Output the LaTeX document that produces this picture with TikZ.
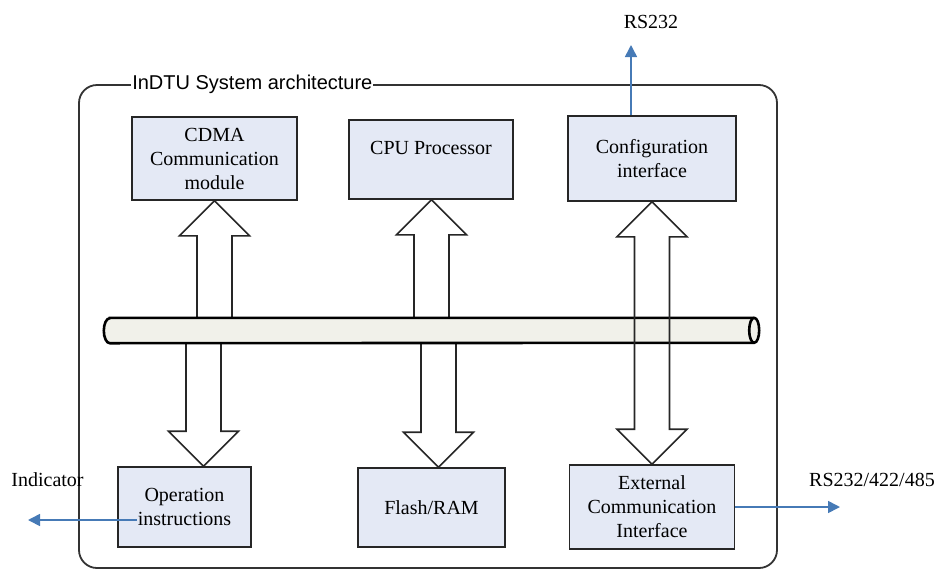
\documentclass[tikz,border=0pt]{standalone}
\usepackage{fontspec}
\setmainfont{Liberation Serif}
\newfontfamily\titlefont{Liberation Sans}
\usetikzlibrary{calc,arrows.meta}

\definecolor{boxfill}{RGB}{228,233,245}
\definecolor{busfill}{RGB}{241,241,234}
\definecolor{linkblue}{RGB}{70,122,182}

\tikzset{
  frame/.style={draw=black!80, line width=1.8pt, rounded corners=18pt},
  title/.style={fill=white, inner sep=1pt, font=\titlefont\fontsize{20}{24}\selectfont},
  box/.style={draw=black!85, line width=1.6pt, fill=boxfill, align=center, inner sep=0pt},
  bus/.style={minimum width=655pt, minimum height=25pt, inner sep=0pt},
  busline/.style={draw=black, line width=2.6pt, fill=busfill},
  fat/.style={draw=black!85, line width=1.6pt, to path={
    ($(\tikztostart)!17.5pt!90:(\tikztotarget)$)
    -- ($(\tikztotarget)!35pt!(\tikztostart)!17.5pt!90:(\tikztotarget)$)
    -- ($(\tikztotarget)!35pt!(\tikztostart)!35pt!90:(\tikztotarget)$)
    -- (\tikztotarget)
    -- ($(\tikztotarget)!35pt!(\tikztostart)!35pt!-90:(\tikztotarget)$)
    -- ($(\tikztotarget)!35pt!(\tikztostart)!17.5pt!-90:(\tikztotarget)$)
    -- ($(\tikztostart)!17.5pt!-90:(\tikztotarget)$)}},
  fatboth/.style={draw=black!85, line width=1.6pt, to path={
    (\tikztostart)
    -- ($(\tikztostart)!35pt!(\tikztotarget)!35pt!90:(\tikztotarget)$)
    -- ($(\tikztostart)!35pt!(\tikztotarget)!17.5pt!90:(\tikztotarget)$)
    -- ($(\tikztotarget)!35pt!(\tikztostart)!17.5pt!90:(\tikztotarget)$)
    -- ($(\tikztotarget)!35pt!(\tikztostart)!35pt!90:(\tikztotarget)$)
    -- (\tikztotarget)
    -- ($(\tikztotarget)!35pt!(\tikztostart)!35pt!-90:(\tikztotarget)$)
    -- ($(\tikztotarget)!35pt!(\tikztostart)!17.5pt!-90:(\tikztotarget)$)
    -- ($(\tikztostart)!35pt!(\tikztotarget)!17.5pt!-90:(\tikztotarget)$)
    -- ($(\tikztostart)!35pt!(\tikztotarget)!35pt!-90:(\tikztotarget)$)
    -- cycle}},
  link/.style={draw=linkblue, line width=1.6pt, -{Triangle[length=12pt,width=12pt]}}
}

\begin{document}
\begin{tikzpicture}[x=1pt, y=-1pt, font=\fontsize{20}{24}\selectfont]
  \useasboundingbox (0,0) rectangle (935,571);
  % system frame
  \node[frame, minimum width=698pt, minimum height=483pt] (sys) at (428,326.5) {};
  \node[title, anchor=west] (ttl) at ([xshift=53pt]sys.north west) {InDTU System architecture};

  % upper modules
  \node[box, minimum width=165pt, minimum height=83pt] (cdma) at (214.5,158.5) {CDMA\\Communication\\module};
  \node[box, minimum width=164pt, minimum height=79pt] (cpu) at (431,159.5) {CPU Processor\\ \mbox{}};
  \node[box, minimum width=168pt, minimum height=85pt] (config) at (652,158.5) {Configuration\\interface};

  % lower modules
  \node[box, minimum width=133pt, minimum height=80pt] (oper) at (184.5,507) {Operation\\instructions};
  \node[box, minimum width=147pt, minimum height=79pt] (flash) at (431.5,507.5) {Flash/RAM};
  \node[box, minimum width=165pt, minimum height=84pt] (ext) at (652,507) {External\\Communication\\Interface};

  % bus (cylinder lying on its side)
  \node[bus] (bus) at (431.5,330.5) {};
  \coordinate (b1) at (bus.north -| cdma.south);
  \coordinate (b2) at ([xshift=0.5pt]bus.north -| cpu.south);
  \coordinate (b4) at ([xshift=19pt]bus.south -| oper.north);
  \coordinate (b5) at ([xshift=7pt]bus.south -| flash.north);

  \draw[fat] (b1) to (cdma.south);
  \draw[fat] (b2) to (b2 |- cpu.south);
  \draw[fat] (b4) to (b4 |- oper.north);
  \draw[fat] (b5) to (b5 |- flash.north);

  \draw[busline] ([xshift=6pt]bus.north west) -- ([xshift=-5pt]bus.north east)
    arc[start angle=90, end angle=-90, x radius=5pt, y radius=12.5pt]
    -- ([xshift=6pt]bus.south west)
    arc[start angle=270, end angle=90, x radius=6pt, y radius=12.5pt] -- cycle;
  \draw[busline, fill=none] ([xshift=-5pt]bus.north east)
    arc[start angle=90, end angle=270, x radius=5pt, y radius=12.5pt];

  \draw[fatboth] (config.south) to (ext.north);

  % external links
  \node (rs) at (651,22) {RS232};
  \node (ind) at (47.5,480) {Indicator};
  \node (rsx) at (872,480) {RS232/422/485};
  \coordinate (rsend) at (631,45);
  \coordinate (indstart) at (137,520);
  \coordinate (indend) at (28,520);
  \coordinate (rsxend) at (840,507);
  \draw[link] (rsend |- config.north) -- (rsend);
  \draw[link] (indstart) -- (indend);
  \draw[link] (ext.east) -- (rsxend);
\end{tikzpicture}
\end{document}
